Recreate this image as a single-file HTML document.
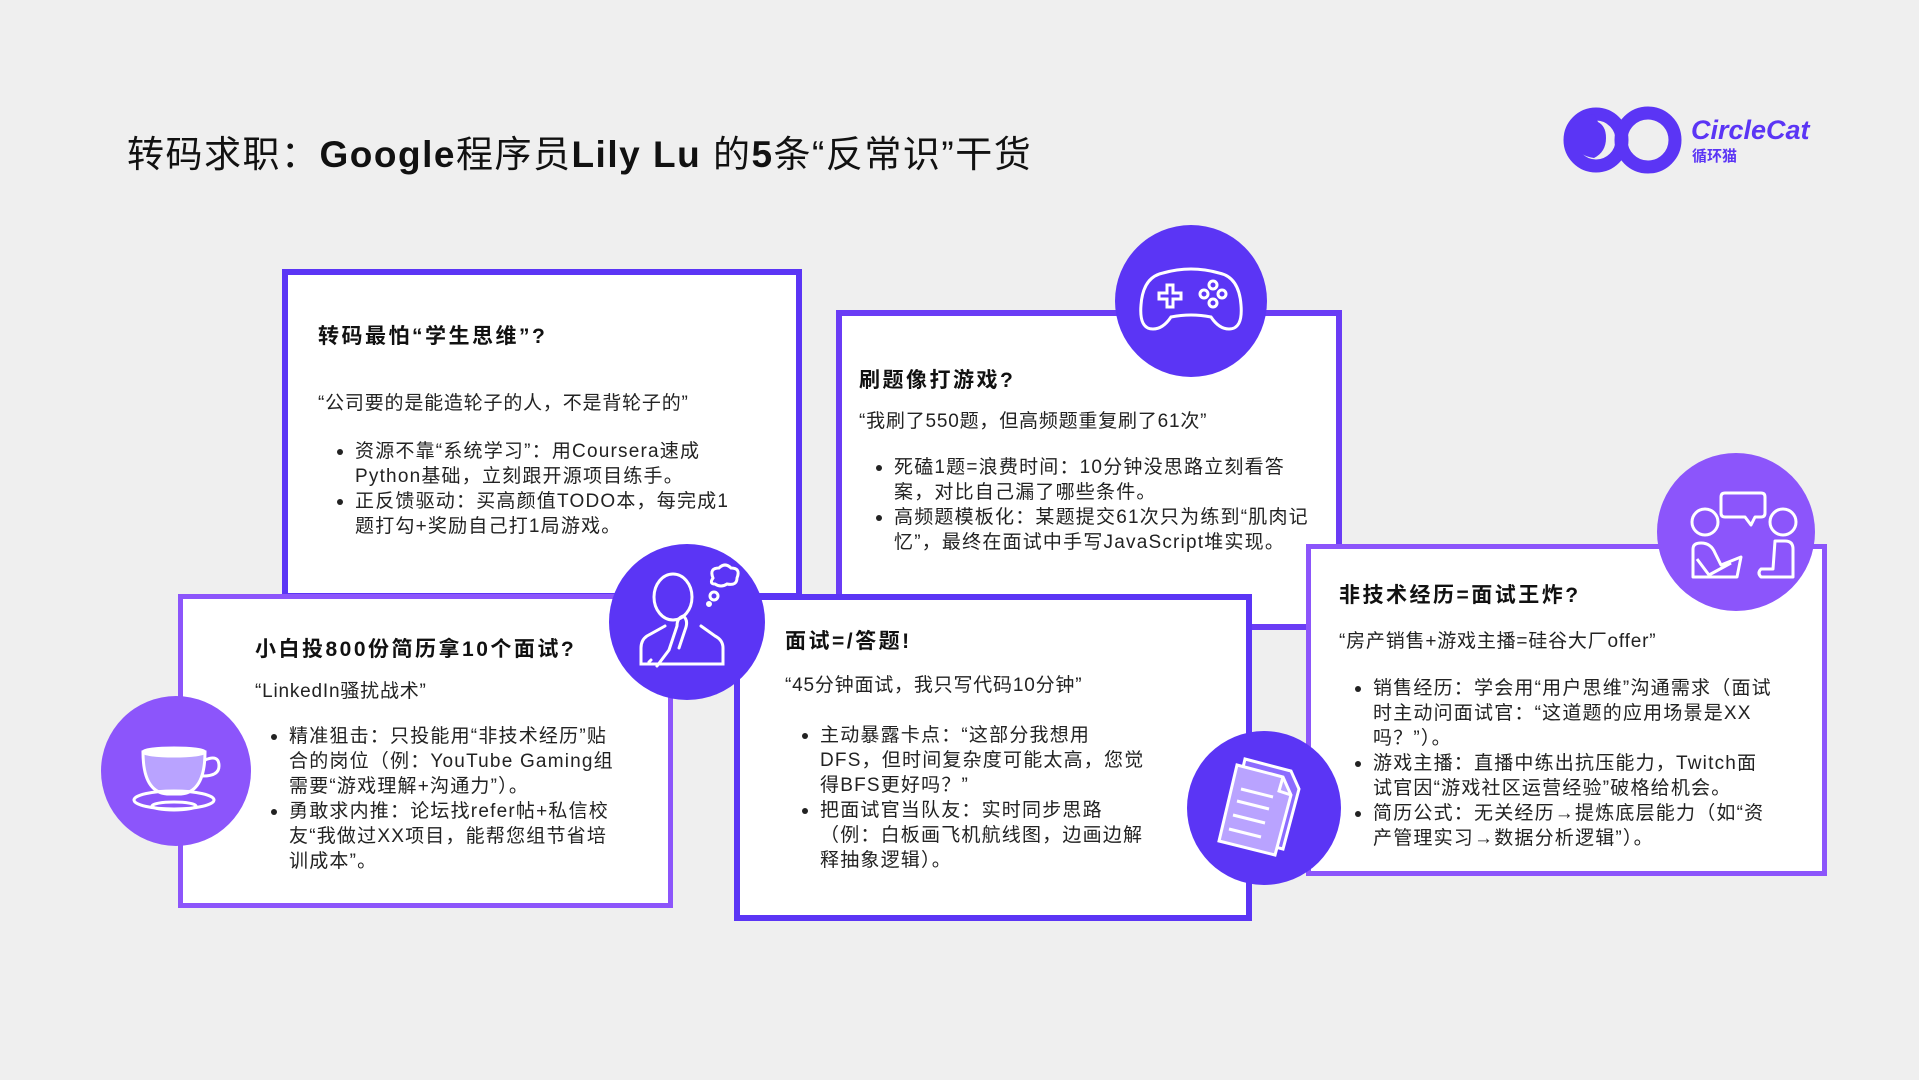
<!DOCTYPE html>
<html><head><meta charset="utf-8"><style>
html,body{margin:0;padding:0}
body{width:1919px;height:1080px;background:#efefef;position:relative;overflow:hidden;font-family:"Liberation Sans","Noto Sans CJK SC",sans-serif;color:#1a1a1a}
.box{position:absolute;background:#fff;box-sizing:border-box}
.t{position:absolute;white-space:nowrap}
.h{font-weight:bold;font-size:21px;letter-spacing:2.5px;color:#111}
.q{font-size:19px;color:#222;letter-spacing:0.8px}
.b{font-size:19px;line-height:25px;color:#222;letter-spacing:1.2px}
.b div{position:relative;padding-left:18px}
.b div.s::before{content:"";position:absolute;left:0;top:10px;width:6px;height:6px;border-radius:3px;background:#222}
.c{position:absolute;border-radius:50%}
svg{position:absolute;left:0;top:0}
</style></head><body>

<div class="t" style="left:127px;top:124px;font-size:37px;color:#111;letter-spacing:1.5px">转码求职：<b>Google</b>程序员<b>Lily Lu</b> 的<b>5</b>条“反常识”干货</div>

<!-- logo -->
<svg style="left:1560px;top:100px" width="130" height="80" viewBox="0 0 130 80">
<circle cx="36" cy="40" r="26" fill="none" stroke="#5b35f5" stroke-width="13"/>
<path d="M14 30 Q20 16 34 14 L38 22 Q46 26 46 38 Q46 52 34 58 Q20 56 14 46Z" fill="#5b35f5"/>
<circle cx="88" cy="40" r="27" fill="none" stroke="#5b35f5" stroke-width="13"/>
</svg>
<div class="t" style="left:1691px;top:115px;font-size:27px;font-weight:bold;font-style:italic;color:#5b35f5">CircleCat</div>
<div class="t" style="left:1692px;top:145px;font-size:15px;font-weight:bold;color:#5b35f5">循环猫</div>

<div class="box" style="left:282px;top:269px;width:520px;height:330px;border:6px solid #5b35f5"></div>
<div class="box" style="left:836px;top:310px;width:506px;height:320px;border:6px solid #6a3cf5"></div>
<div class="box" style="left:1306px;top:544px;width:521px;height:332px;border:5px solid #8c55fb"></div>
<div class="box" style="left:178px;top:594px;width:495px;height:314px;border:5px solid #8c55fb"></div>
<div class="box" style="left:734px;top:594px;width:518px;height:327px;border:6px solid #5b35f5"></div>

<div class="t h" style="left:318px;top:320px">转码最怕“学生思维”?</div>
<div class="t q" style="left:318px;top:388px">“公司要的是能造轮子的人，不是背轮子的”</div>
<div class="t b" style="left:337px;top:439px">
<div class="s">资源不靠“系统学习”：用Coursera速成</div><div>Python基础，立刻跟开源项目练手。</div>
<div class="s">正反馈驱动：买高颜值TODO本，每完成1</div><div>题打勾+奖励自己打1局游戏。</div></div>

<div class="t h" style="left:859px;top:364px">刷题像打游戏?</div>
<div class="t q" style="left:859px;top:406px">“我刷了550题，但高频题重复刷了61次”</div>
<div class="t b" style="left:876px;top:455px">
<div class="s">死磕1题=浪费时间：10分钟没思路立刻看答</div><div>案，对比自己漏了哪些条件。</div>
<div class="s">高频题模板化：某题提交61次只为练到“肌肉记</div><div>忆”，最终在面试中手写JavaScript堆实现。</div></div>

<div class="t h" style="left:255px;top:633px">小白投800份简历拿10个面试?</div>
<div class="t q" style="left:255px;top:676px">“LinkedIn骚扰战术”</div>
<div class="t b" style="left:271px;top:724px">
<div class="s">精准狙击：只投能用“非技术经历”贴</div><div>合的岗位（例：YouTube Gaming组</div><div>需要“游戏理解+沟通力”）。</div>
<div class="s">勇敢求内推：论坛找refer帖+私信校</div><div>友“我做过XX项目，能帮您组节省培</div><div>训成本”。</div></div>

<div class="t h" style="left:785px;top:625px">面试=/答题!</div>
<div class="t q" style="left:785px;top:670px">“45分钟面试，我只写代码10分钟”</div>
<div class="t b" style="left:802px;top:723px">
<div class="s">主动暴露卡点：“这部分我想用</div><div>DFS，但时间复杂度可能太高，您觉</div><div>得BFS更好吗？”</div>
<div class="s">把面试官当队友：实时同步思路</div><div>（例：白板画飞机航线图，边画边解</div><div>释抽象逻辑）。</div></div>

<div class="t h" style="left:1339px;top:579px">非技术经历=面试王炸?</div>
<div class="t q" style="left:1339px;top:626px">“房产销售+游戏主播=硅谷大厂offer”</div>
<div class="t b" style="left:1355px;top:676px">
<div class="s">销售经历：学会用“用户思维”沟通需求（面试</div><div>时主动问面试官：“这道题的应用场景是XX</div><div>吗？”）。</div>
<div class="s">游戏主播：直播中练出抗压能力，Twitch面</div><div>试官因“游戏社区运营经验”破格给机会。</div>
<div class="s">简历公式：无关经历→提炼底层能力（如“资</div><div>产管理实习→数据分析逻辑”）。</div></div>

<div class="c" style="left:1115px;top:225px;width:152px;height:152px;background:#5b35f5">
<svg width="152" height="152" viewBox="0 0 152 152" fill="none" stroke="#fff" stroke-width="3">
<path d="M48 48 Q76 40 104 48 Q124 52 126 80 Q128 104 114 104 Q104 104 96 92 Q76 88 56 92 Q48 104 38 104 Q24 104 26 80 Q28 52 48 48Z"/>
<path d="M44 68 h8 v-8 h6 v8 h8 v6 h-8 v8 h-6 v-8 h-8z"/>
<circle cx="98" cy="60" r="4"/><circle cx="98" cy="78" r="4"/><circle cx="89" cy="69" r="4"/><circle cx="107" cy="69" r="4"/>
</svg></div>

<div class="c" style="left:609px;top:544px;width:156px;height:156px;background:#5b35f5">
<svg width="156" height="156" viewBox="0 0 156 156" fill="none" stroke="#fff" stroke-width="3" stroke-linecap="round">
<ellipse cx="64" cy="53" rx="19" ry="23"/>
<path d="M56 82 L38 92 Q32 96 32 104 V120 H114 V104 Q114 96 106 92 L92 82"/>
<path d="M70 104 L76 86 Q80 76 74 72 Q68 74 68 82 L60 106 L48 122"/>
<path d="M40 118 l2 -2"/>
<path d="M104 34 q-4 -10 6 -10 q6 -6 12 0 q10 0 6 10 q0 8 -10 6 q-6 4 -12 0 q-6 0 -2 -6z"/>
<circle cx="105" cy="52" r="4"/><circle cx="100" cy="60" r="1.5"/>
</svg></div>

<div class="c" style="left:101px;top:696px;width:150px;height:150px;background:#8c55fb">
<svg width="150" height="150" viewBox="0 0 150 150" fill="none" stroke="#fff" stroke-width="3">
<path d="M42 56 H104 Q104 96 80 98 H66 Q42 96 42 56Z" fill="#b9a3ff"/>
<ellipse cx="73" cy="56" rx="31" ry="4" fill="#fff"/>
<path d="M104 64 q14 -6 14 6 q0 10 -16 10"/>
<ellipse cx="73" cy="104" rx="40" ry="9"/>
<ellipse cx="73" cy="110" rx="22" ry="4"/>
</svg></div>

<div class="c" style="left:1187px;top:731px;width:154px;height:154px;background:#5b35f5">
<svg width="154" height="154" viewBox="0 0 154 154" fill="none" stroke="#fff" stroke-width="3">
<path d="M58 28 L104 40 L112 58 L96 118 L40 104Z" fill="#8c6cff"/>
<path d="M50 34 L96 46 L104 64 L88 124 L32 110Z" fill="#b9a3ff"/>
<path d="M96 46 L92 60 L104 64"/>
<path d="M50 70 L82 78 M46 84 L78 92 M42 98 L74 106 M54 58 L86 66"/>
</svg></div>

<div class="c" style="left:1657px;top:453px;width:158px;height:158px;background:#8c55fb">
<svg width="158" height="158" viewBox="0 0 158 158" fill="none" stroke="#fff" stroke-width="3" stroke-linejoin="round">
<circle cx="48" cy="69" r="13"/><circle cx="126" cy="69" r="13"/>
<path d="M68 40 H104 Q108 40 108 44 V60 Q108 64 104 64 H98 L94 72 L88 64 H68 Q64 64 64 60 V44 Q64 40 68 40Z"/>
<path d="M36 124 V96 Q36 90 44 90 Q54 90 58 100 L64 112 L84 104 L80 124Z"/>
<path d="M40 106 L52 122 L74 110"/>
<path d="M118 88 H128 Q136 88 136 96 V124 H104 Q100 120 104 116 H116 Z"/>
</svg></div>

</body></html>
